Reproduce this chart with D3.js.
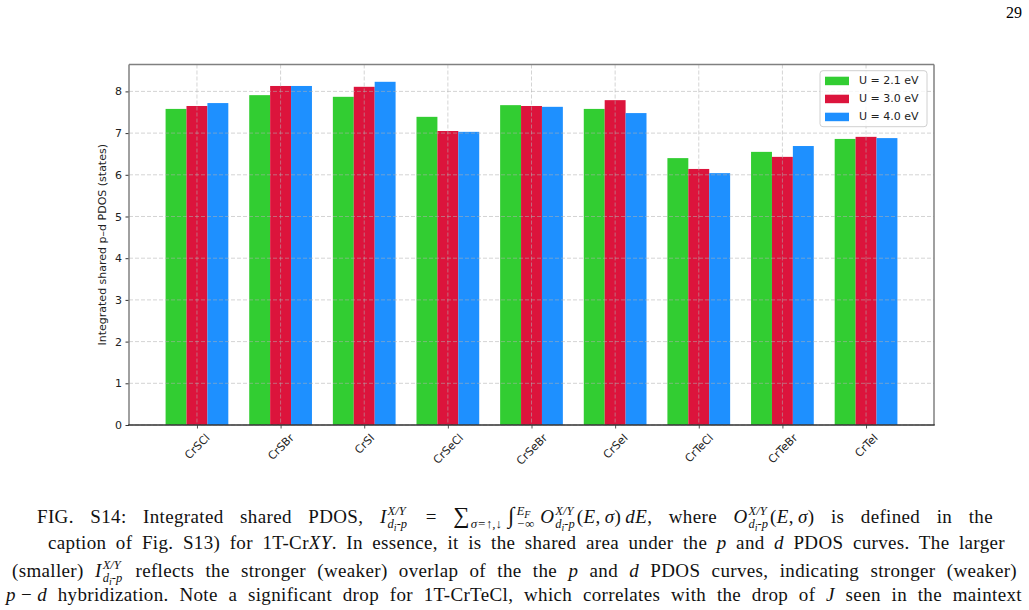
<!DOCTYPE html>
<html>
<head>
<meta charset="utf-8">
<script src="https://cdn.jsdelivr.net/npm/d3@7"></script>
<style>
  body { margin: 0; background: #fff; }
  #page { position: relative; width: 1029px; height: 610px; overflow: hidden; }
  #chart { position: absolute; left: 0; top: 0; }
  .cap { position: absolute; white-space: nowrap; font-family: "Liberation Serif", serif;
         font-size: 19px; line-height: 40px; color: #111; letter-spacing: 0.35px; }
  .ss { display: inline-flex; flex-direction: column; font-size: 0.66em; line-height: 1.05;
        vertical-align: 0.62em; font-style: italic; margin: 0 2px 0 1px; letter-spacing: 0; }
  .ss sub, .lo sub { font-size: 0.8em; vertical-align: -0.25em; }
  .lo { font-size: 0.68em; vertical-align: -0.4em; font-style: italic; margin-right: 6px; letter-spacing: 0; }
  .op { font-size: 1.2em; line-height: 0; margin-right: 1px; }
  .cap sub { line-height: 0; }
</style>
</head>
<body>
<div id="page">
  <svg id="chart" width="1029" height="490"></svg>
</div>
<script>
const categories = ["CrSCl", "CrSBr", "CrSI", "CrSeCl", "CrSeBr", "CrSeI", "CrTeCl", "CrTeBr", "CrTeI"];
const seriesNames = ["U = 2.1 eV", "U = 3.0 eV", "U = 4.0 eV"];
const u21 = [7.58, 7.91, 7.87, 7.39, 7.67, 7.58, 6.40, 6.55, 6.86];
const u30 = [7.65, 8.13, 8.11, 7.05, 7.65, 7.79, 6.14, 6.43, 6.91];
const u40 = [7.72, 8.13, 8.23, 7.03, 7.63, 7.48, 6.04, 6.69, 6.88];
const yTicks = [0, 1, 2, 3, 4, 5, 6, 7, 8];
const colors = ["#32cd32", "#dc143c", "#1e90ff"];
const series = [u21, u30, u40];

const svg = d3.select("#chart");
const pLeft = 129, pRight = 934, pTop = 64.5, pBottom = 425;
const font = "DejaVu Sans";

const x = d3.scaleLinear().domain([-0.8125, 8.8125]).range([pLeft, pRight]);
const y = d3.scaleLinear().domain([0, 8.645]).range([pBottom, pTop]);
const barW = 0.25;

// page number
svg.append("text")
  .attr("x", 1022).attr("y", 18)
  .attr("text-anchor", "end")
  .attr("font-family", "Liberation Serif").attr("font-size", 16)
  .text("29");

// bars
series.forEach((vals, s) => {
  svg.append("g").selectAll("rect")
    .data(vals)
    .enter()
    .append("rect")
    .attr("x", (d, i) => x(i + (s - 1) * barW - barW / 2))
    .attr("width", x(barW) - x(0))
    .attr("y", d => y(d))
    .attr("height", d => y(0) - y(d))
    .attr("fill", colors[s]);
});

// grid on top of bars
const grid = svg.append("g")
  .attr("stroke", "#b0b0b0").attr("stroke-opacity", 0.55)
  .attr("stroke-dasharray", "4,2").attr("stroke-width", 1);
grid.selectAll(".gy").data(yTicks).enter().append("line")
  .attr("x1", pLeft).attr("x2", pRight)
  .attr("y1", d => y(d)).attr("y2", d => y(d));
grid.selectAll(".gx").data(d3.range(categories.length)).enter().append("line")
  .attr("x1", d => x(d)).attr("x2", d => x(d))
  .attr("y1", pTop).attr("y2", pBottom);

// y axis
const yAxis = svg.append("g")
  .attr("transform", "translate(" + pLeft + ",0)")
  .call(d3.axisLeft(y).tickValues(yTicks).tickSize(3.5).tickPadding(3.5));
yAxis.select(".domain").remove();
yAxis.selectAll("text").attr("font-family", font).attr("font-size", 11).attr("fill", "#222");
yAxis.selectAll("line").attr("stroke", "#333");

// x axis
const xAxis = svg.append("g")
  .attr("transform", "translate(0," + pBottom + ")")
  .call(d3.axisBottom(x).tickValues(d3.range(categories.length))
    .tickFormat(i => categories[i]).tickSize(3.5));
xAxis.select(".domain").remove();
xAxis.selectAll("line").attr("stroke", "#555");
xAxis.selectAll("text")
  .attr("font-family", font).attr("font-size", 11).attr("fill", "#222")
  .attr("text-anchor", "middle").attr("dominant-baseline", "central")
  .attr("y", null).attr("dy", null)
  .each(function() {
    const w = this.getComputedTextLength();
    const off = 7.5 + (w + 10) * 0.3536;
    d3.select(this).attr("transform", "translate(0," + off + ") rotate(-45)");
  });

// spines
const sp = svg.append("g").attr("fill", "none").attr("stroke-width", 1.5);
sp.append("line").attr("x1", pLeft).attr("x2", pLeft).attr("y1", pTop).attr("y2", pBottom).attr("stroke", "#808080");
sp.append("line").attr("x1", pRight).attr("x2", pRight).attr("y1", pTop).attr("y2", pBottom).attr("stroke", "#808080");
sp.append("line").attr("x1", pLeft).attr("x2", pRight).attr("y1", pTop).attr("y2", pTop).attr("stroke", "#808080");
sp.append("line").attr("x1", pLeft - 0.75).attr("x2", pRight + 0.75).attr("y1", pBottom).attr("y2", pBottom).attr("stroke", "#333");

// y label
svg.append("text")
  .attr("transform", "translate(102," + ((pTop + pBottom) / 2) + ") rotate(-90)")
  .attr("text-anchor", "middle").attr("dominant-baseline", "central")
  .attr("font-family", font).attr("font-size", 11).attr("fill", "#222")
  .text("Integrated shared p\u2013d PDOS (states)");

// legend
const lg = svg.append("g").attr("transform", "translate(820,70.7)");
lg.append("rect").attr("width", 107).attr("height", 56).attr("rx", 3)
  .attr("fill", "#fff").attr("fill-opacity", 0.8).attr("stroke", "#d0d0d0");
seriesNames.forEach((name, s) => {
  const cy = 10 + s * 18;
  lg.append("rect").attr("x", 5).attr("y", cy - 4).attr("width", 24).attr("height", 8.5).attr("fill", colors[s]);
  lg.append("text").attr("x", 39).attr("y", cy).attr("dominant-baseline", "central")
    .attr("font-family", font).attr("font-size", 11).attr("fill", "#222").text(name);
});

// caption
const idp = '<span class="ss"><span>X/Y</span><span>d<sub>i</sub>-p</span></span>';
const capLines = [
  { x0: 37, x1: 993, base: 524,
    html: 'FIG. S14: Integrated shared PDOS, <i>I</i>' + idp +
      ' = <span class="op">∑</span><span class="lo">σ=↑,↓</span><span class="op">∫</span><span class="ss"><span>E<sub>F</sub></span><span>−∞</span></span>\u2009<i>O</i>' + idp +
      '(<i>E</i>,\u2009<i>σ</i>)\u2009<i>dE</i>, where <i>O</i>' + idp + '(<i>E</i>,\u2009<i>σ</i>) is defined in the' },
  { x0: 48, x1: 1005, base: 550,
    html: 'caption of Fig. S13) for 1T-Cr<i>XY</i>. In essence, it is the shared area under the <i>p</i> and <i>d</i> PDOS curves. The larger' },
  { x0: 12, x1: 1017, base: 578,
    html: '(smaller) <i>I</i>' + idp + ' reflects the stronger (weaker) overlap of the the <i>p</i> and <i>d</i> PDOS curves, indicating stronger (weaker)' },
  { x0: 6, x1: 1022, base: 602,
    html: '<i>p</i>\u2005−\u2005<i>d</i> hybridization. Note a significant drop for 1T-CrTeCl, which correlates with the drop of <i>J</i> seen in the maintext' }
];

d3.select("#page").selectAll(".cap")
  .data(capLines)
  .enter()
  .append("div")
  .attr("class", "cap")
  .style("left", d => d.x0 + "px")
  .style("top", d => (d.base - 27) + "px")
  .html(d => d.html)
  .each(function(d) {
    const nat = this.getBoundingClientRect().width;
    const n = (this.textContent.match(/ /g) || []).length;
    this.style.wordSpacing = ((d.x1 - d.x0 - nat) / n) + "px";
  });
</script>
</body>
</html>
